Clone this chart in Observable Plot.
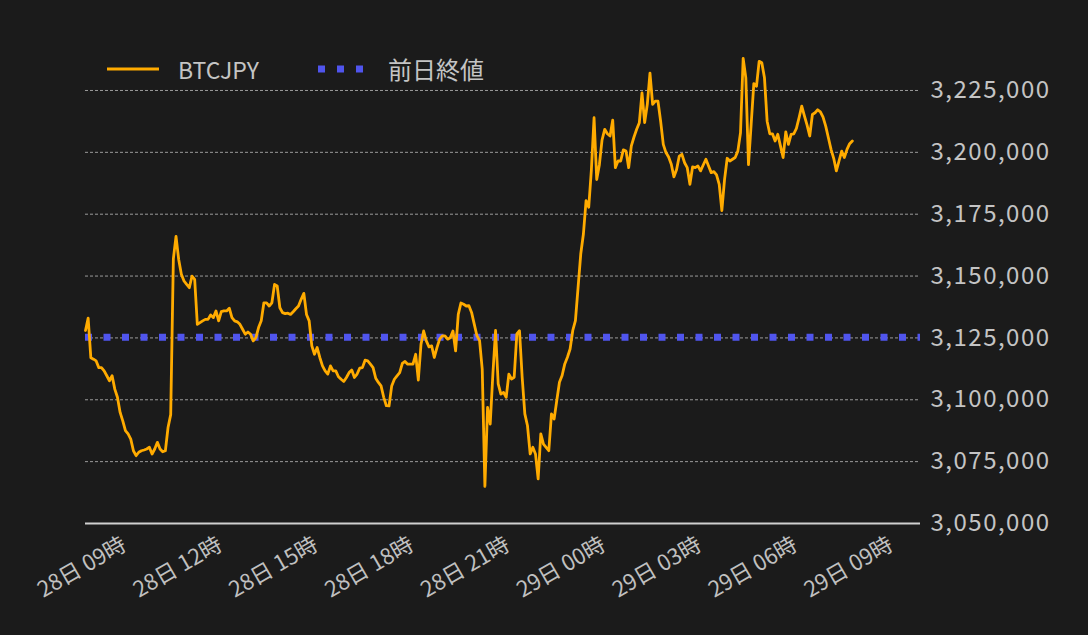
<!DOCTYPE html>
<html>
<head>
<meta charset="utf-8">
<script src="https://cdn.jsdelivr.net/npm/d3@7"></script>
<script src="https://cdn.jsdelivr.net/npm/@observablehq/plot@0.6"></script>
<style>
  body { margin: 0; background: #1b1b1b; }
  #wrap { position: relative; width: 1088px; height: 635px; font-family: "Noto Sans CJK JP", "Noto Sans", sans-serif; }
  #legend { position: absolute; left: 0; top: 0; width: 1088px; height: 100px; pointer-events: none; }
  .lg { position: absolute; top: 52px; color: #c4c4c4; font-size: 23px; line-height: 34px; }
  g[aria-label="y-axis tick label"] text { letter-spacing: 1.5px; }
</style>
</head>
<body>
<div id="wrap">
  <div id="chart"></div>
  <div id="legend">
    <svg width="1088" height="100" style="position:absolute;left:0;top:0">
      <line x1="107" x2="159" y1="69" y2="69" stroke="#ffab00" stroke-width="3"/>
      <line x1="318" x2="366" y1="69" y2="69" stroke="#5055ee" stroke-width="7" stroke-dasharray="7,12"/>
    </svg>
    <div class="lg" style="left:178px">BTCJPY</div>
    <div class="lg" style="left:388px;font-size:24px">前日終値</div>
  </div>
</div>
<script>
// BTC/JPY price every 5 minutes, from 28日 09:00 to 29日 09:00 (one row per hour)
const seriesStart = "2023-01-28T09:00:00Z";
const stepMinutes = 5;
const btcjpy = [
  3128000, 3133000, 3117000, 3116400, 3115700, 3113000, 3113000, 3111700, 3109700, 3107700, 3109700, 3104300,
  3101000, 3094900, 3091500, 3087500, 3086200, 3084100, 3079400, 3077400, 3078800, 3079400, 3079700, 3080100,
  3080800, 3078100, 3080100, 3082800, 3080100, 3079000, 3079400, 3088800, 3094000, 3157000, 3166000, 3156700,
  3150700, 3148000, 3146600, 3145300, 3150000, 3148700, 3130500, 3131200, 3131900, 3132500, 3132500, 3134300,
  3133200, 3135900, 3131900, 3135600, 3135900, 3135900, 3137000, 3133200, 3131900, 3131500, 3130500, 3128500,
  3126500, 3127400, 3126500, 3123800, 3125100, 3129200, 3131900, 3139200, 3139200, 3137900, 3139200, 3146600,
  3146000, 3137200, 3135200, 3134800, 3135000, 3134500, 3135600, 3136800, 3137900, 3140600, 3143000, 3134500,
  3131900, 3121800, 3118400, 3121100, 3117100, 3113700, 3111700, 3110400, 3113700, 3111700, 3111700, 3109300,
  3108300, 3107400, 3109000, 3111000, 3112000, 3109000, 3110400, 3112800, 3113000, 3116000, 3115700, 3114400,
  3113000, 3108700, 3107000, 3105600, 3101000, 3097600, 3097500, 3105600, 3108300, 3109700, 3111000, 3114700,
  3115500, 3114400, 3114400, 3114400, 3118400, 3108000, 3122400, 3127800, 3123800, 3121400, 3121800, 3117100,
  3121100, 3124500, 3125800, 3125800, 3124500, 3125100, 3127800, 3119800, 3134500, 3139100, 3138600, 3137900,
  3138000, 3135300, 3130600, 3125900, 3123900, 3112400, 3065000, 3096900, 3090200, 3110400, 3128000, 3106400,
  3102300, 3103000, 3101000, 3110400, 3108400, 3109100, 3126600, 3127900, 3109100, 3094300, 3089500, 3078100,
  3080800, 3078100, 3068000, 3086200, 3082100, 3080800, 3079400, 3094300, 3092200, 3099700, 3107100, 3109800,
  3114500, 3117200, 3120500, 3128000, 3132000, 3145400, 3158900, 3167000, 3180500, 3177800, 3193000, 3214000,
  3189000, 3195000, 3205000, 3209300, 3207500, 3206600, 3213000, 3193800, 3196500, 3196500, 3201000, 3200500,
  3193800, 3202600, 3206200, 3209300, 3212000, 3224000, 3212000, 3219400, 3232000, 3219400, 3220700, 3220700,
  3212600, 3203200, 3199900, 3198100, 3195200, 3190100, 3193100, 3198500, 3199200, 3195800, 3193800, 3187100,
  3194100, 3193800, 3194500, 3192500, 3194900, 3197200, 3194500, 3191800, 3192200, 3190900, 3187100, 3176500,
  3189000, 3197600, 3196500, 3197200, 3197900, 3200500, 3207900, 3238000, 3230100, 3195000, 3211300, 3227800,
  3226700, 3236800, 3236200, 3230100, 3212600, 3207500, 3207500, 3204600, 3207300, 3202600, 3197900, 3208300,
  3203200, 3207300, 3207500, 3209700, 3214000, 3218700, 3214700, 3211000, 3206600, 3215300, 3216000, 3217200,
  3216400, 3214200, 3210600, 3205900, 3201200, 3197600, 3192500, 3196500, 3200500, 3197900, 3201200, 3203500,
  3204600
];
// previous day's closing price
const prevClose = 3125300;

// axis ticks
const yTicks = [3050000, 3075000, 3100000, 3125000, 3150000, 3175000, 3200000, 3225000];
const xTicks = [
  "2023-01-28T09:00:00Z", "2023-01-28T12:00:00Z", "2023-01-28T15:00:00Z",
  "2023-01-28T18:00:00Z", "2023-01-28T21:00:00Z", "2023-01-29T00:00:00Z",
  "2023-01-29T03:00:00Z", "2023-01-29T06:00:00Z", "2023-01-29T09:00:00Z"
];
const xDomain = ["2023-01-28T09:00:00Z", "2023-01-29T11:08:00Z"];
const yDomain = [3050000, 3245200];

const t0 = new Date(seriesStart).getTime();
const data = btcjpy.map((v, i) => ({ time: new Date(t0 + i * stepMinutes * 60000), price: v }));
const tickDates = xTicks.map(d => new Date(d));
const fmtX = d3.utcFormat("%d日 %H時");
const font = '"Noto Sans CJK JP", "Noto Sans", sans-serif';

const chart = Plot.plot({
  width: 1088,
  height: 635,
  marginLeft: 85,
  marginRight: 168,
  marginTop: 40,
  marginBottom: 112,
  style: { background: "#1b1b1b", color: "#c4c4c4", fontFamily: font },
  x: { type: "utc", domain: xDomain.map(d => new Date(d)), axis: null },
  y: { domain: yDomain, axis: null },
  marks: [
    Plot.gridY(yTicks.slice(1), { stroke: "#a8a8a8", strokeOpacity: 0.9, strokeDasharray: "3,2", strokeWidth: 1 }),
    Plot.ruleY([yTicks[0]], { stroke: "#d0d0d0", strokeWidth: 2 }),
    Plot.axisY(yTicks, {
      anchor: "right", label: null, tickSize: 0, tickPadding: 10, tickFormat: d3.format(","),
      fontSize: 24, fill: "#c4c4c4", fontFamily: font
    }),
    Plot.text(tickDates, {
      x: d => d, frameAnchor: "bottom", dy: 50, rotate: -30, textAnchor: "middle",
      text: d => fmtX(d), fontSize: 22, fill: "#c0c0c0", fontFamily: font
    }),
    Plot.ruleY([prevClose], { stroke: "#5055ee", strokeWidth: 7, strokeDasharray: "7,11.5" }),
    Plot.line(data, { x: "time", y: "price", stroke: "#ffab00", strokeWidth: 2.8, strokeLinejoin: "round" })
  ]
});
document.getElementById("chart").appendChild(chart);
</script>
</body>
</html>
